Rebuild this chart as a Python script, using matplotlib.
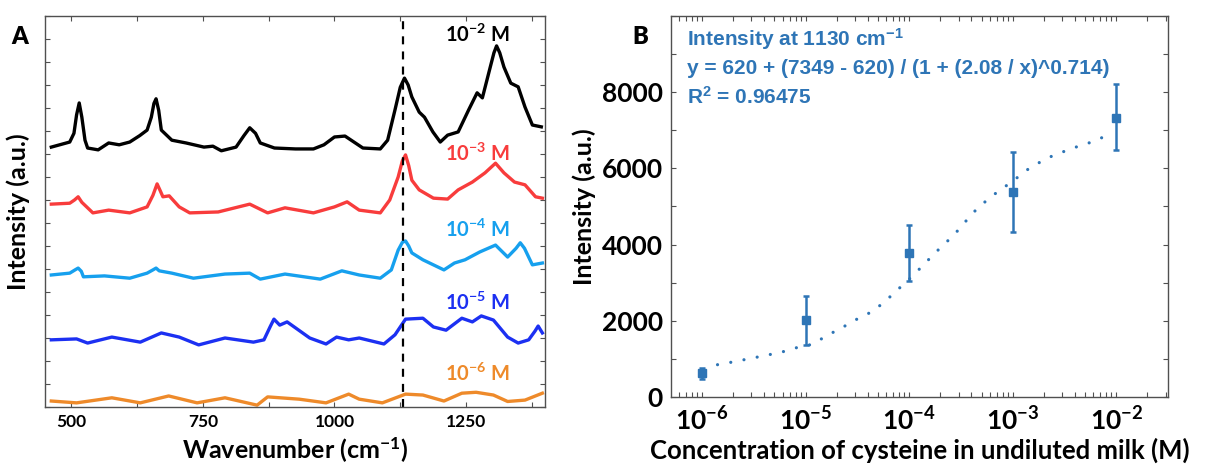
import numpy as np
import matplotlib.pyplot as plt
from matplotlib.ticker import MultipleLocator, FixedLocator, LogLocator, NullFormatter, FuncFormatter

plt.rcParams['font.family'] = ['Lato', 'DejaVu Sans']
plt.rcParams['font.weight'] = 'bold'
plt.rcParams['mathtext.default'] = 'regular'

# --- panel A : SERS spectra (offset, arbitrary units) ---
wn_2 = [462, 497, 505, 510, 515, 520, 526, 531, 551, 571, 591, 611, 630, 644, 652, 657, 661, 666, 671,
        691, 718, 752, 769, 785, 813, 828, 839, 850, 859, 886, 926, 960, 980, 1000, 1020, 1037, 1054,
        1087, 1101, 1115, 1125, 1133, 1140, 1147, 1161, 1171, 1187, 1201, 1215, 1235, 1255, 1271, 1281,
        1296, 1303, 1308, 1314, 1322, 1335, 1349, 1362, 1376, 1393]
int_2 = [5.65, 5.76, 5.95, 6.35, 6.61, 6.30, 5.80, 5.63, 5.59, 5.74, 5.70, 5.76, 5.90, 6.02, 6.30, 6.60,
         6.70, 6.45, 6.02, 5.80, 5.74, 5.65, 5.67, 5.57, 5.65, 5.90, 6.07, 5.95, 5.74, 5.63, 5.61, 5.61,
         5.70, 5.87, 5.89, 5.76, 5.63, 5.61, 5.80, 6.46, 6.95, 7.15, 7.00, 6.74, 6.41, 6.30, 5.98, 5.76,
         5.91, 5.98, 6.46, 6.83, 6.72, 7.39, 7.70, 7.85, 7.70, 7.39, 7.04, 6.96, 6.52, 6.13, 6.09]

wn_3 = [462, 497, 506, 513, 520, 541, 571, 611, 644, 655, 663, 669, 674, 686, 705, 725, 779, 839, 873,
        906, 960, 1000, 1024, 1047, 1087, 1105, 1121, 1129, 1135, 1141, 1147, 1161, 1188, 1215, 1235,
        1262, 1286, 1306, 1322, 1342, 1362, 1382, 1395]
int_3 = [4.41, 4.43, 4.50, 4.57, 4.45, 4.22, 4.28, 4.22, 4.35, 4.60, 4.85, 4.70, 4.57, 4.59, 4.35, 4.22,
         4.24, 4.41, 4.22, 4.33, 4.22, 4.35, 4.46, 4.28, 4.22, 4.50, 5.00, 5.35, 5.48, 5.25, 4.93, 4.72,
         4.54, 4.52, 4.72, 4.89, 5.09, 5.30, 5.09, 4.89, 4.83, 4.57, 4.54]

wn_4 = [462, 497, 507, 513, 519, 523, 563, 611, 644, 655, 661, 667, 691, 732, 792, 839, 859, 906, 973,
        1014, 1047, 1087, 1108, 1121, 1129, 1135, 1141, 1147, 1168, 1208, 1228, 1248, 1276, 1306, 1329,
        1345, 1353, 1361, 1376, 1395]
int_4 = [2.87, 2.91, 2.98, 3.02, 2.95, 2.83, 2.85, 2.80, 2.91, 2.98, 3.02, 2.96, 2.91, 2.80, 2.89, 2.91,
         2.78, 2.89, 2.78, 2.96, 2.87, 2.80, 2.98, 3.41, 3.58, 3.61, 3.50, 3.35, 3.20, 2.98, 3.13, 3.20,
         3.37, 3.52, 3.26, 3.45, 3.57, 3.45, 3.09, 3.13]

wn_5 = [462, 510, 531, 577, 631, 671, 705, 742, 792, 846, 866, 878, 885, 896, 910, 926, 953, 984, 1004,
        1027, 1047, 1094, 1115, 1135, 1168, 1188, 1212, 1242, 1262, 1279, 1302, 1329, 1349, 1369, 1381,
        1387, 1395]
int_5 = [1.46, 1.48, 1.39, 1.52, 1.41, 1.61, 1.52, 1.35, 1.50, 1.41, 1.46, 1.75, 1.91, 1.78, 1.85, 1.72,
         1.50, 1.37, 1.52, 1.46, 1.50, 1.37, 1.57, 1.91, 1.93, 1.74, 1.67, 1.93, 1.85, 1.98, 1.89, 1.52,
         1.39, 1.46, 1.65, 1.76, 1.61]

wn_6 = [462, 510, 577, 631, 685, 739, 792, 853, 873, 933, 984, 1027, 1047, 1091, 1135, 1168, 1208, 1242,
        1269, 1302, 1329, 1362, 1395]
int_6 = [0.13, 0.09, 0.20, 0.09, 0.24, 0.09, 0.20, 0.04, 0.22, 0.17, 0.09, 0.28, 0.17, 0.09, 0.28, 0.26,
         0.13, 0.30, 0.32, 0.26, 0.12, 0.15, 0.30]

spec_labels = ['2', '3', '4', '5', '6']
spec_colors = ['#000000', '#f83c3c', '#16a0ee', '#1c30f2', '#ee8a2a']
label_y = [8.1, 5.5, 3.85, 2.27, 0.72]

# --- panel B : intensity at 1130 cm-1 vs concentration ---
conc = [1e-6, 1e-5, 1e-4, 1e-3, 1e-2]
intensity = [620, 2020, 3785, 5380, 7330]
err_low = [140, 650, 730, 1050, 860]
err_high = [140, 640, 720, 1050, 885]

fit_x = [1.41e-6, 2.04e-6, 2.95e-6, 4.27e-6, 6.0e-6, 8.3e-6, 1.17e-5, 1.58e-5, 2.24e-5, 3.09e-5,
         4.27e-5, 5.75e-5, 7.4e-5, 9.5e-5, 1.23e-4, 1.58e-4, 2.04e-4, 2.69e-4, 3.39e-4, 4.47e-4,
         5.75e-4, 7.6e-4, 1.0e-3, 1.29e-3, 1.74e-3, 2.29e-3, 3.02e-3, 4.07e-3, 5.37e-3, 8.1e-3]
fit_y = [848, 926, 1013, 1100, 1186, 1299, 1385, 1602, 1818, 2035, 2225, 2485, 2771, 3030, 3333,
         3636, 3939, 4242, 4563, 4927, 5185, 5442, 5657, 5914, 6129, 6300, 6429, 6558, 6661, 6858]

W, H = 1224, 469
fig = plt.figure(figsize=(W / 100, H / 100), dpi=100)
axA = fig.add_axes([45 / W, (H - 407) / H, 500 / W, 391 / H])
axB = fig.add_axes([671 / W, (H - 397) / H, 497 / W, 381 / H])

frame = '#505050'

spectra = [(wn_2, int_2), (wn_3, int_3), (wn_4, int_4), (wn_5, int_5), (wn_6, int_6)]
for (wn, vals), c, lab, ly in zip(spectra, spec_colors, spec_labels, label_y):
    axA.plot(wn, vals, color=c, lw=2.4, solid_joinstyle='round')
    axA.text(1272, ly, r'$10^{-%s}$ M' % lab, color=c, fontsize=14.5, fontweight='bold',
             ha='center', va='center')

axA.axvline(1130, color='black', lw=1.6, ls=(0, (3.6, 3.2)))
axA.set_xlim(450, 1400)
axA.set_ylim(0, 8.5)
axA.set_xticks([500, 750, 1000, 1250])
axA.xaxis.set_minor_locator(MultipleLocator(125))
axA.yaxis.set_major_locator(MultipleLocator(0.5))
axA.set_yticklabels([])
axA.tick_params(which='both', direction='in', top=True, right=True, length=3.5, width=0.8,
                color=frame, labelsize=12.5, pad=5)
axA.set_xlabel('Wavenumber (cm$^{-1}$)', fontsize=18, fontweight='bold', labelpad=4)
axA.set_ylabel('Intensity (a.u.)', fontsize=18, fontweight='bold', labelpad=6)

blue = '#2e75b6'
axB.plot(fit_x, fit_y, color=blue, lw=2.3, ls=(0, (0.01, 4.2)), dash_capstyle='round')
axB.errorbar(conc, intensity, yerr=[err_low, err_high], fmt='s', color=blue, ms=6,
             capsize=2.3, elinewidth=1.8, capthick=1.8)
axB.set_xscale('log')
axB.set_xlim(10 ** -6.3, 10 ** -1.5)
axB.set_ylim(0, 10000)
axB.xaxis.set_major_locator(FixedLocator([1e-6, 1e-5, 1e-4, 1e-3, 1e-2]))
axB.xaxis.set_minor_locator(LogLocator(base=10, subs=np.arange(2, 10), numticks=20))
axB.xaxis.set_minor_formatter(NullFormatter())
axB.xaxis.set_major_formatter(FuncFormatter(lambda v, p: r'$10^{%d}$' % round(np.log10(v))))
axB.yaxis.set_major_locator(FixedLocator([0, 2000, 4000, 6000, 8000]))
axB.yaxis.set_minor_locator(MultipleLocator(1000))
axB.tick_params(which='both', direction='in', top=True, right=True, length=3.5, width=0.8,
                color=frame, labelsize=19, pad=6)
axB.set_xlabel('Concentration of cysteine in undiluted milk (M)', fontsize=18.5,
               fontweight='bold', labelpad=3)
axB.set_ylabel('Intensity (a.u.)', fontsize=18, fontweight='bold', labelpad=4)

for ax in (axA, axB):
    for s in ax.spines.values():
        s.set_color(frame)
        s.set_linewidth(1.0)

fig.text(20 / W, 1 - 37 / H, 'A', fontsize=17, fontweight='heavy', ha='center', va='center')
fig.text(640 / W, 1 - 37 / H, 'B', fontsize=17, fontweight='heavy', ha='center', va='center')

nfont = ['Liberation Sans', 'DejaVu Sans']
fig.text(687 / W, 1 - 39 / H, 'Intensity at 1130 cm$^{-1}$', color=blue, fontsize=15,
         fontweight='bold', family=nfont, va='center')
fig.text(687 / W, 1 - 68 / H, 'y = 620 + (7349 - 620) / (1 + (2.08 / x)^0.714)', color=blue,
         fontsize=15, fontweight='bold', family=nfont, va='center')
fig.text(687 / W, 1 - 97 / H, 'R$^{2}$ = 0.96475', color=blue, fontsize=15, fontweight='bold',
         family=nfont, va='center')

fig.savefig('out.png', dpi=100)
